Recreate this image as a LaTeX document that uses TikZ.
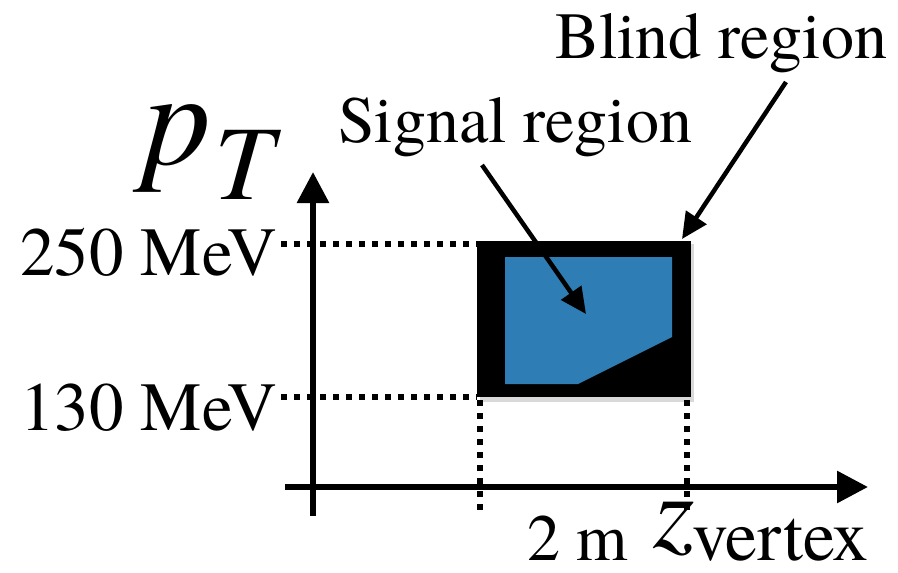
\documentclass[tikz,border=0pt]{standalone}
\usepackage{fontspec}
\setmainfont{TeX Gyre Termes}
\usetikzlibrary{arrows.meta}
\definecolor{sigblue}{RGB}{46,125,180}
\tikzset{
  axis/.style={line width=6pt,-{Triangle[length=31pt,width=31pt]}},
  dotline/.style={line width=5.5pt,dash pattern=on 6pt off 7pt},
  pointer/.style={line width=4.5pt,-{Triangle[length=26pt,width=24pt]}},
  lbl/.style={inner sep=0pt,font=\fontsize{66}{70}\selectfont},
}
\begin{document}
\begin{tikzpicture}[x=1pt,y=-1pt]
\useasboundingbox (0,0) rectangle (898,573);
% blind region box
\fill[gray!30] (480,244) rectangle (694,402);
\fill[black] (477,241) rectangle (691,397);
\fill[sigblue] (505,257) -- (672,257) -- (672,337) -- (578,384) -- (505,384) -- cycle;
\coordinate (box) at (477,241);
% dotted guides
\coordinate (h1a) at (281,244); \coordinate (h1b) at (477,244);
\coordinate (h2a) at (281,397); \coordinate (h2b) at (477,397);
\coordinate (v1a) at (480,400); \coordinate (v1b) at (480,510);
\coordinate (v2a) at (687,400); \coordinate (v2b) at (687,510);
\draw[dotline] (h1a) -- (h1b);
\draw[dotline] (h2a) -- (h2b);
\draw[dotline] (v1a) -- (v1b);
\draw[dotline] (v2a) -- (v2b);
% axes
\coordinate (yo) at (313,516); \coordinate (yt) at (313,172);
\coordinate (xo) at (285,487); \coordinate (xt) at (868,487);
\draw[axis] (yo) -- (yt);
\draw[axis] (xo) -- (xt);
% labels
\node[lbl,anchor=base east,font=\fontsize{69}{72}\selectfont] (l250) at (277,275) {250 MeV};
\node[lbl,anchor=base east,font=\fontsize{69}{72}\selectfont] (l130) at (277,430) {130 MeV};
\node[lbl,anchor=base west] (sig) at (338,142) {Signal region};
\node[lbl,anchor=base west] (blind) at (555,58) {Blind region};
\node[lbl,anchor=base west] (twom) at (527,560) {2 m};
\node[inner sep=0pt,anchor=base west,font=\fontsize{106}{112}\selectfont\itshape] (z) at (653,547) {z};
\node[lbl,anchor=base west,font=\fontsize{72}{76}\selectfont] (vtx) at (692,560) {vertex};
\node[inner sep=0pt,anchor=base west,font=\fontsize{136}{140}\selectfont\itshape] (p) at (143,164) {p};
\node[inner sep=0pt,anchor=base west,font=\fontsize{106}{110}\selectfont\itshape] (T) at (214,199) {T};
% pointers
\coordinate (sigs) at (482,165); \coordinate (sige) at (586,314);
\coordinate (blis) at (786,82); \coordinate (blie) at (682,239);
\draw[pointer] (sigs) -- (sige);
\draw[pointer] (blis) -- (blie);
\end{tikzpicture}
\end{document}
